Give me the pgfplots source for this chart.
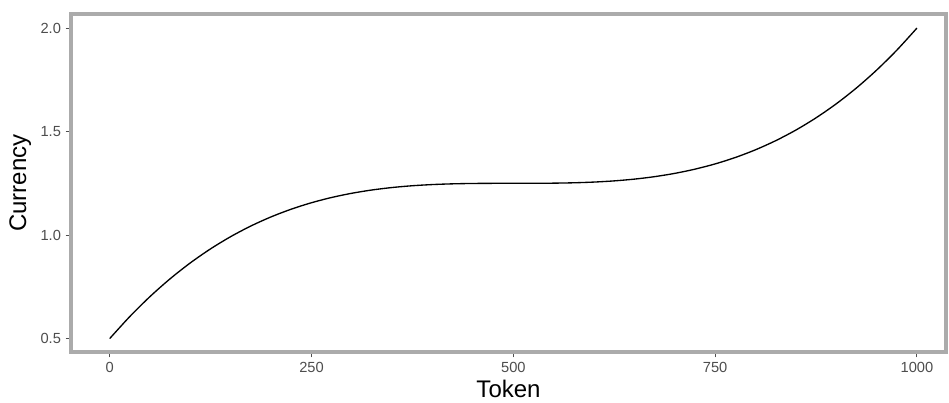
\documentclass[border=0pt]{standalone}
\usepackage{fontspec}
\setmainfont{Liberation Sans}
\usepackage{pgfplots}
\pgfplotsset{compat=1.18}
\definecolor{bordergrey}{HTML}{ABABAB}
\definecolor{ticktext}{HTML}{4D4D4D}
\begin{document}
\begin{tikzpicture}
\useasboundingbox (-53.25pt,-38.25pt) rectangle (658.5pt,264pt);
\begin{axis}[
  scale only axis,
  width=656.25pt, height=253.5pt,
  xmin=-48, xmax=1036,
  ymin=0.435, ymax=2.068,
  xtick={0,250,500,750,1000},
  ytick={0.5,1.0,1.5,2.0},
  yticklabels={0.5,1.0,1.5,2.0},
  /pgf/number format/1000 sep={},
  /pgf/number format/assume math mode=true,
  tick label style={font=\fontsize{11}{13}\selectfont, text=ticktext},
  axis line style={draw=bordergrey, line width=3pt},
  tick style={draw=ticktext, line width=0.8pt},
  tick align=outside,
  major tick length=4pt,
  xtick pos=bottom, ytick pos=left,
  xlabel={Token}, ylabel={Currency},
  label style={font=\fontsize{18}{21}\selectfont},
  xlabel style={at={(0.5,0)}, anchor=center, yshift=-27.5pt},
  ylabel style={at={(0,0.5)}, anchor=center, yshift=38pt},
  clip=false,
]
\addplot[black, line width=1pt, smooth] coordinates {
(0,0.5) (25,0.606969) (50,0.70325) (75,0.789406) (100,0.866) (125,0.933594)
(150,0.99275) (175,1.044031) (200,1.088) (225,1.125219) (250,1.15625)
(275,1.181656) (300,1.202) (325,1.217844) (350,1.22975) (375,1.238281)
(400,1.244) (425,1.247469) (450,1.24925) (475,1.249906) (500,1.25)
(525,1.250094) (550,1.25075) (575,1.252531) (600,1.256) (625,1.261719)
(650,1.27025) (675,1.282156) (700,1.298) (725,1.318344) (750,1.34375)
(775,1.374781) (800,1.412) (825,1.455969) (850,1.50725) (875,1.566406)
(900,1.634) (925,1.710594) (950,1.79675) (975,1.893031) (1000,2.0)
};
\end{axis}
\end{tikzpicture}
\end{document}
